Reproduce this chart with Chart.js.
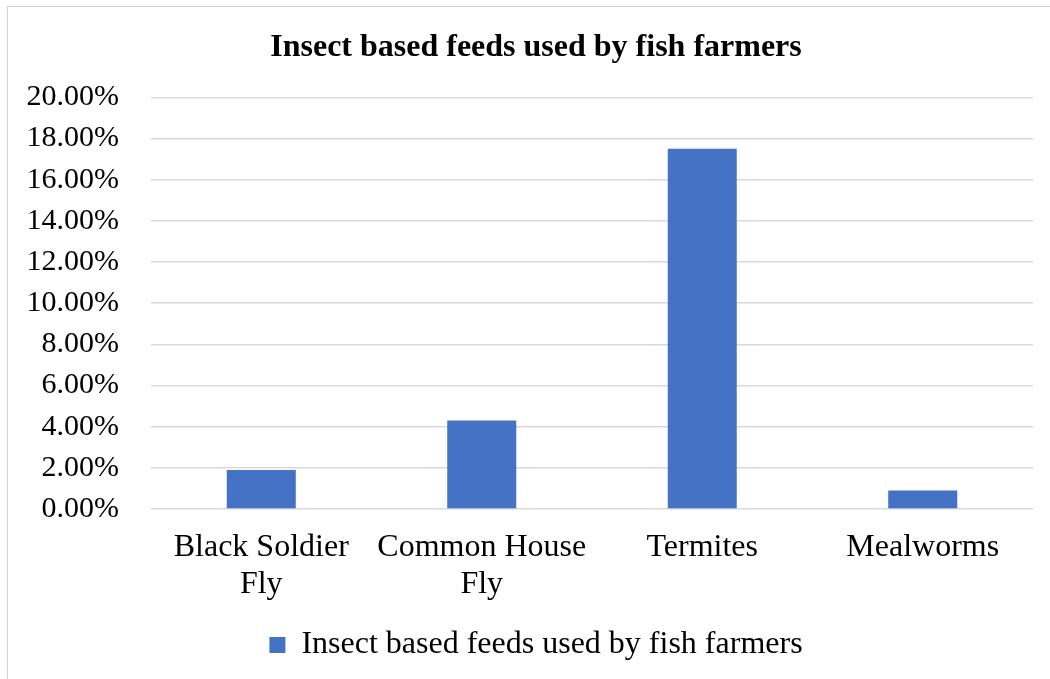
<!DOCTYPE html>
<html>
<head>
<meta charset="utf-8">
<script src="https://cdn.jsdelivr.net/npm/chart.js@4.4.1/dist/chart.umd.min.js"></script>
<style>
  html, body { margin: 0; padding: 0; background: #ffffff; overflow: hidden; }
  #frame {
    position: absolute; left: 7px; top: 6px;
    width: 1100px; height: 720px;
    border: 1px solid #d0d0d0; box-sizing: border-box;
  }
  #wrap { position: absolute; left: 0; top: 0; width: 1050px; height: 679px; }
</style>
</head>
<body>
<div id="frame"></div>
<div id="wrap"><canvas id="chart" width="1050" height="679"></canvas></div>
<script>
// Share of fish farmers using each insect-based feed (%)
const categories = [['Black Soldier', 'Fly'], ['Common House', 'Fly'], 'Termites', 'Mealworms'];
const seriesName = 'Insect based feeds used by fish farmers';
const seriesValues = [1.9, 4.3, 17.5, 0.9];
const yTicks = [0, 2, 4, 6, 8, 10, 12, 14, 16, 18, 20];

const serif = '"Liberation Serif", "Times New Roman", serif';
const barBlue = '#4472C4';
const gridGrey = '#d9d9d9';

new Chart(document.getElementById('chart'), {
  type: 'bar',
  data: {
    labels: categories,
    datasets: [{
      label: seriesName,
      data: seriesValues,
      backgroundColor: barBlue,
      borderWidth: 0,
      barPercentage: 0.313,
      categoryPercentage: 1.0
    }]
  },
  options: {
    responsive: false,
    animation: false,
    devicePixelRatio: 1,
    layout: { padding: { left: 39, right: 17, top: 0, bottom: 8 } },
    plugins: {
      title: {
        display: true,
        text: 'Insect based feeds used by fish farmers',
        color: '#000000',
        font: { family: serif, size: 32, weight: 'bold', lineHeight: 1.2 },
        padding: { top: 29, bottom: 30 }
      },
      legend: {
        display: true,
        position: 'bottom',
        labels: {
          color: '#000000',
          font: { family: serif, size: 32, lineHeight: 1.2 },
          boxWidth: 16,
          boxHeight: 16,
          padding: 10
        }
      },
      tooltip: { enabled: false }
    },
    scales: {
      x: {
        grid: { display: false, drawTicks: false },
        border: { display: false },
        ticks: {
          color: '#000000',
          font: { family: serif, size: 32, lineHeight: 1.15 },
          padding: 20,
          maxRotation: 0,
          autoSkip: false
        },
        afterFit: s => { s.height = 110; }
      },
      y: {
        min: 0,
        max: 20,
        afterBuildTicks: s => { s.ticks = yTicks.map(v => ({ value: v })); },
        grid: { color: gridGrey, lineWidth: 1.5, drawTicks: false, tickLength: 0 },
        border: { display: false },
        ticks: {
          color: '#000000',
          font: { family: serif, size: 30 },
          padding: 32,
          callback: v => v.toFixed(2) + '%'
        },
        afterFit: s => {
          s.width = 112;
          // let the wide percent labels run past the axis box on the left
          s._computeLabelArea = () => undefined;
        }
      }
    }
  }
});
</script>
</body>
</html>
